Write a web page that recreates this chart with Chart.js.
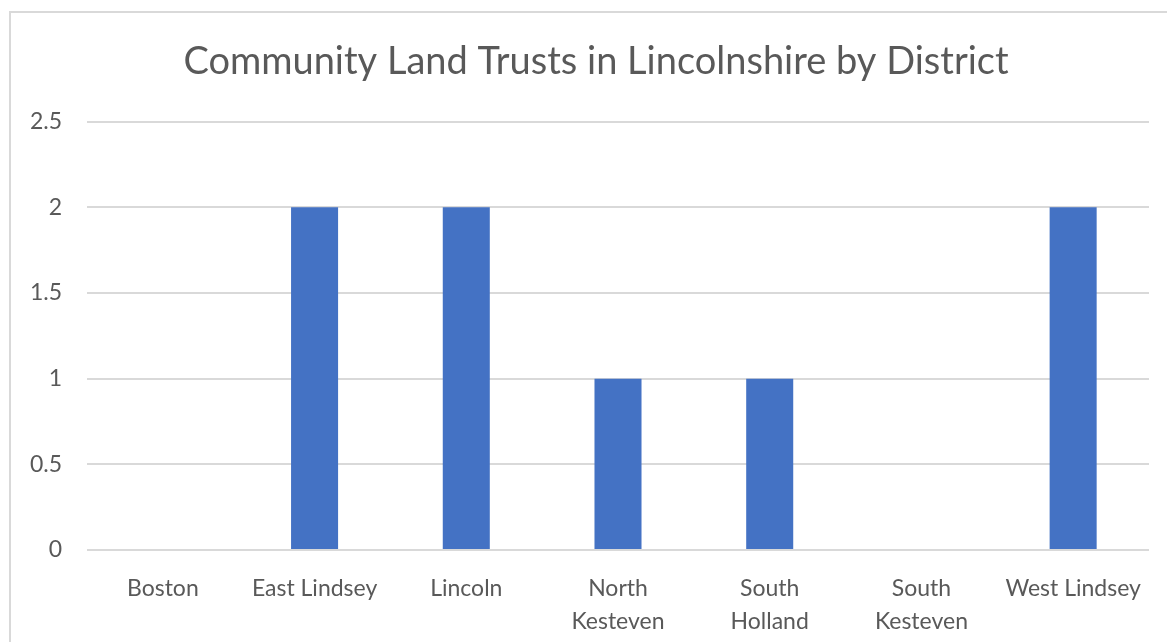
<!DOCTYPE html>
<html lang="en">
<head>
  <meta charset="UTF-8">
  <title>Community Land Trusts in Lincolnshire by District</title>
  <script src="https://cdn.jsdelivr.net/npm/chart.js"></script>
  <style>
    body {
      margin: 0;
      background: #fff;
      overflow: hidden;
    }
    #marco {
      position: absolute;
      left: 9px;
      top: 11px;
      width: 1170px;
      height: 680px;
      border: 2px solid #d9d9d9;
    }
  </style>
</head>
<body>
  <div id="marco">
    <canvas id="grafica" width="1170" height="680"></canvas>
  </div>

  <script>
    // Datos
    const districts = ['Boston', 'East Lindsey', 'Lincoln', ['North', 'Kesteven'], ['South', 'Holland'], ['South', 'Kesteven'], 'West Lindsey'];
    const trusts = [0, 2, 2, 1, 1, 0, 2];
    const yMax = 2.5;
    const yStep = 0.5;

    const gris = '#595959';
    const fuente = 'Lato, "Open Sans", sans-serif';

    const ctx = document.getElementById('grafica').getContext('2d');
    new Chart(ctx, {
      type: 'bar',
      data: {
        labels: districts,
        datasets: [{
          label: 'Community Land Trusts',
          data: trusts,
          backgroundColor: '#4472C4',
          barPercentage: 0.31,
          categoryPercentage: 1
        }]
      },
      options: {
        responsive: false,
        animation: false,
        layout: { padding: 0 },
        scales: {
          x: {
            grid: { display: false },
            border: { display: false },
            ticks: {
              color: gris,
              padding: 14,
              maxRotation: 0,
              font: { family: fuente, size: 23, lineHeight: 1.43 }
            },
            afterFit: (scale) => { scale.height = 143; }
          },
          y: {
            min: 0,
            max: yMax,
            grid: { color: '#d9d9d9', lineWidth: 2, drawTicks: false },
            border: { display: false },
            ticks: {
              stepSize: yStep,
              color: gris,
              padding: 25,
              font: { family: fuente, size: 23 },
              callback: (v) => String(v)
            },
            afterFit: (scale) => { scale.width = 76; }
          },
          // espacio vacío a la derecha del área del gráfico
          margen: {
            type: 'linear',
            position: 'right',
            grid: { display: false },
            border: { display: false },
            ticks: { display: false },
            afterFit: (scale) => { scale.width = 32; }
          }
        },
        plugins: {
          legend: { display: false },
          tooltip: { enabled: false },
          title: {
            display: true,
            text: 'Community Land Trusts in Lincolnshire by District',
            color: gris,
            font: { family: fuente, size: 38, weight: 'normal', lineHeight: 1.2 },
            padding: { top: 26, bottom: 37 }
          }
        }
      }
    });
  </script>
</body>
</html>
